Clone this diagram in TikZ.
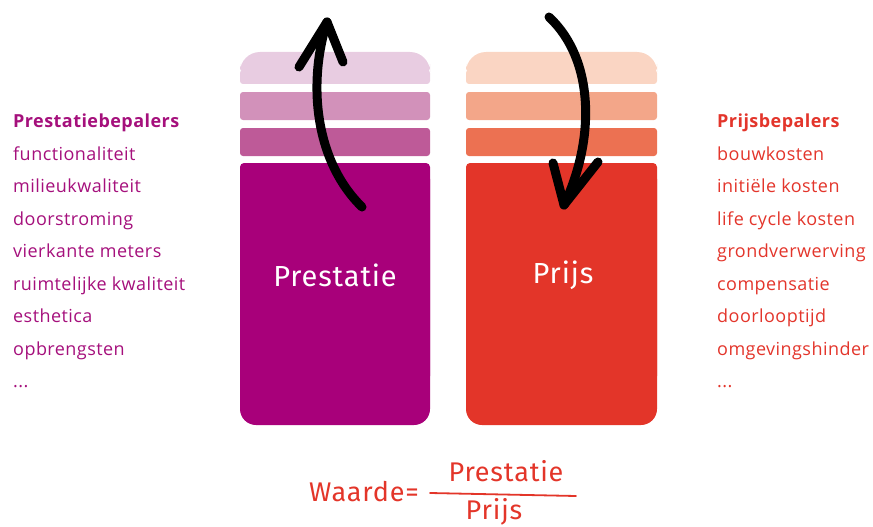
\documentclass[tikz,border=0pt]{standalone}
\usepackage{fontspec}
\setmainfont[LetterSpace=2.5]{Open Sans}
\newfontfamily\handfont[LetterSpace=3]{Fira Sans}
\definecolor{pA}{HTML}{E8CCE1}
\definecolor{pB}{HTML}{D291BA}
\definecolor{pC}{HTML}{BE5A98}
\definecolor{pD}{HTML}{A8007A}
\definecolor{rA}{HTML}{FAD5C3}
\definecolor{rB}{HTML}{F3A689}
\definecolor{rC}{HTML}{EC7152}
\definecolor{rD}{HTML}{E33529}
\definecolor{ptext}{HTML}{A5107C}
\definecolor{rtext}{HTML}{E3352B}
\tikzset{
  listitem/.style={anchor=base west, inner sep=0pt, font=\fontsize{18}{18}\selectfont},
  listhead/.style={listitem, font=\fontsize{18}{18}\selectfont\bfseries},
  blocklabel/.style={text=white, font=\handfont\fontsize{29}{29}\selectfont, inner sep=0pt},
  formula/.style={text=rD, font=\handfont\fontsize{27}{27}\selectfont, inner sep=0pt},
  swaparrow/.style={line width=9pt, line cap=round, line join=round, draw=black},
}
\begin{document}
\begin{tikzpicture}[x=1pt,y=-1pt]
\useasboundingbox (0,0) rectangle (873,527);
% left column
\fill[pA, rounded corners=20pt] (240,52) rectangle (430,84);
\fill[pA, rounded corners=3pt] (240,70) rectangle (430,84);
\fill[pB, rounded corners=3pt] (240,92) rectangle (430,120);
\fill[pC, rounded corners=3pt] (240,128) rectangle (430,156);
\fill[pD, rounded corners=16pt] (240,163) rectangle (430,425);
\fill[pD, rounded corners=4pt] (240,163) rectangle (430,380);
% right column
\fill[rA, rounded corners=20pt] (466,52) rectangle (657,84);
\fill[rA, rounded corners=3pt] (466,70) rectangle (657,84);
\fill[rB, rounded corners=3pt] (466,92) rectangle (657,120);
\fill[rC, rounded corners=3pt] (466,128) rectangle (657,156);
\fill[rD, rounded corners=16pt] (466,163) rectangle (657,425);
\fill[rD, rounded corners=4pt] (466,163) rectangle (657,380);
% block labels
\node[blocklabel] (prest) at (335,275) {Prestatie};
\node[blocklabel] (prijs) at (563,275) {Prijs};
% arrows
\coordinate (la0) at (362,207);
\coordinate (la1) at (327,22);
\coordinate (lh1) at (299,67);
\coordinate (lh2) at (343,62);
\draw[swaparrow] (la0) .. controls (314,160) and (308,82) .. (la1);
\draw[swaparrow] (lh1) -- (la1) -- (lh2);
\coordinate (ra0) at (549,17);
\coordinate (ra1) at (564,205);
\coordinate (rh1) at (553,163);
\coordinate (rh2) at (598,162);
\draw[swaparrow] (ra0) .. controls (595,60) and (595,140) .. (ra1);
\draw[swaparrow] (rh1) -- (ra1) -- (rh2);
% left list
\begin{scope}[text=ptext]
\node[listhead] (lt) at (13,127) {Prestatiebepalers};
\node[listitem] (l1) at (13,160) {functionaliteit};
\node[listitem] (l2) at (13,192.5) {milieukwaliteit};
\node[listitem] (l3) at (13,225) {doorstroming};
\node[listitem] (l4) at (13,257.5) {vierkante meters};
\node[listitem] (l5) at (13,290) {ruimtelijke kwaliteit};
\node[listitem] (l6) at (13,322.5) {esthetica};
\node[listitem] (l7) at (13,355) {opbrengsten};
\node[listitem] (l8) at (13,387.5) {...};
\end{scope}
% right list
\begin{scope}[text=rtext]
\node[listhead] (rt) at (717,127) {Prijsbepalers};
\node[listitem] (r1) at (717,160) {bouwkosten};
\node[listitem] (r2) at (717,192.5) {initiële kosten};
\node[listitem] (r3) at (717,225) {life cycle kosten};
\node[listitem] (r4) at (717,257.5) {grondverwerving};
\node[listitem] (r5) at (717,290) {compensatie};
\node[listitem] (r6) at (717,322.5) {doorlooptijd};
\node[listitem] (r7) at (717,355) {omgevingshinder};
\node[listitem] (r8) at (717,387.5) {...};
\end{scope}
% formula
\node[formula, anchor=east] (waarde) at (419,492) {Waarde=};
\node[formula] (num) at (506,471) {Prestatie};
\node[formula] (den) at (494,512) {Prijs};
\coordinate (fl0) at (430,493);
\coordinate (fl1) at (576,496);
\draw[rD, line width=1.8pt, line cap=round] (fl0) -- (fl1);
\end{tikzpicture}
\end{document}
